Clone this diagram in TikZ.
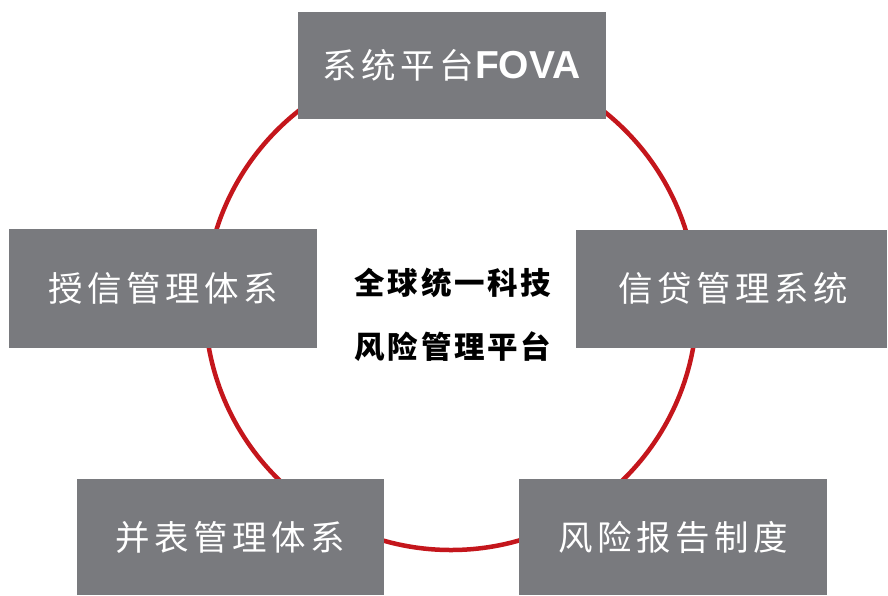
\documentclass[tikz,border=0pt]{standalone}
\usepackage{fontspec}
\setmainfont{Liberation Sans}
\newfontfamily\cjkbox[LetterSpace=13]{Noto Sans CJK SC}
\newfontfamily\cjkmid[LetterSpace=9]{Noto Sans CJK SC}
\definecolor{boxgrey}{HTML}{797A7E}
\definecolor{ringred}{HTML}{C4161C}
\begin{document}
\begin{tikzpicture}[x=1pt,y=-1pt,
  box/.style={fill=boxgrey, draw=none, inner sep=0pt, text=white,
    font=\cjkbox\fontsize{34.5}{38}\selectfont},
  ring/.style={draw=ringred, line width=4.5pt}]
\useasboundingbox (0,0) rectangle (888,595);
\draw[ring] (451,304) circle (246);
\node[box, minimum width=308, minimum height=107] (top) at (451.5,65.5)
  {系统平台\hspace{1pt}{\normalfont\fontsize{39}{40}\selectfont\bfseries FOVA}};
\node[box, minimum width=308, minimum height=119] (left) at (163,288.5) {授信管理体系};
\node[box, minimum width=311, minimum height=118] (right) at (731.5,288.5) {\hspace{4pt}信贷管理系统};
\node[box, minimum width=307, minimum height=116] (bl) at (230.5,537) {并表管理体系};
\node[box, minimum width=308, minimum height=116] (br) at (673,537) {风险报告制度};
\node[align=center, inner sep=0pt, font=\cjkmid\bfseries\fontsize{30.5}{64}\selectfont] (mid) at (453,315)
  {全球统一科技\\风险管理平台};
\end{tikzpicture}
\end{document}
